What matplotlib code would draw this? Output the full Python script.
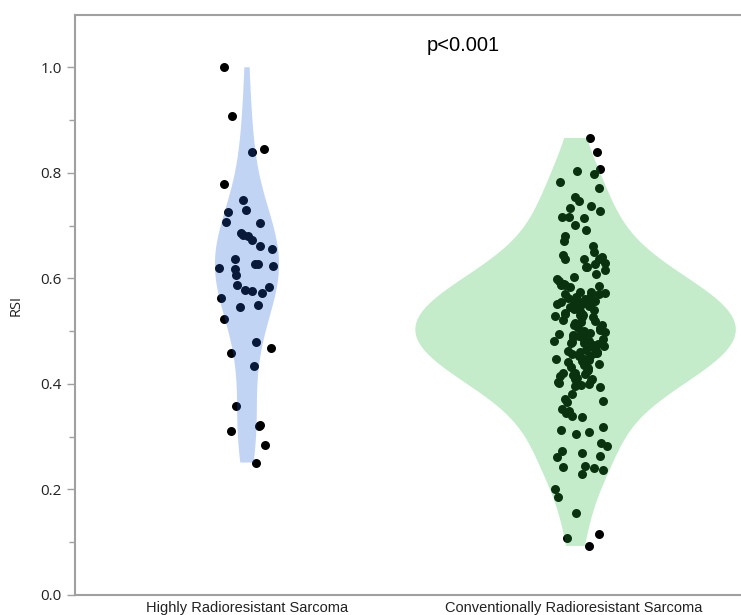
import numpy as np
import matplotlib
matplotlib.use('Agg')
import matplotlib.pyplot as plt
from matplotlib.ticker import MultipleLocator

### data
groups = ['Highly Radioresistant Sarcoma', 'Conventionally Radioresistant Sarcoma']

rsi_high = [1.000, 0.908, 0.846, 0.840, 0.778, 0.748, 0.729, 0.725, 0.704, 0.707,
            0.686, 0.680, 0.682, 0.672, 0.661, 0.655, 0.636, 0.627, 0.628, 0.617,
            0.619, 0.623, 0.606, 0.588, 0.583, 0.576, 0.578, 0.573, 0.563, 0.549,
            0.545, 0.523, 0.479, 0.468, 0.458, 0.434, 0.358, 0.322, 0.320, 0.311,
            0.285, 0.251]

rsi_conv = [0.866, 0.840, 0.803, 0.797, 0.807, 0.782, 0.772, 0.754, 0.746, 0.716,
            0.737, 0.734, 0.728, 0.716, 0.714, 0.701, 0.691, 0.680, 0.671, 0.661,
            0.650, 0.637, 0.640, 0.637, 0.636, 0.644, 0.616, 0.622, 0.622, 0.629,
            0.628, 0.609, 0.598, 0.602, 0.595, 0.590, 0.587, 0.585, 0.588, 0.584,
            0.574, 0.570, 0.572, 0.575, 0.571, 0.554, 0.556, 0.552, 0.553, 0.558,
            0.560, 0.551, 0.548, 0.533, 0.531, 0.534, 0.530, 0.555, 0.556, 0.552,
            0.557, 0.550, 0.529, 0.527, 0.532, 0.526, 0.513, 0.511, 0.512, 0.515,
            0.492, 0.488, 0.490, 0.494, 0.487, 0.485, 0.478, 0.474, 0.472, 0.476,
            0.470, 0.461, 0.458, 0.462, 0.460, 0.457, 0.442, 0.436, 0.432, 0.425,
            0.418, 0.415, 0.412, 0.410, 0.408, 0.402, 0.420, 0.398, 0.396, 0.399,
            0.381, 0.372, 0.368, 0.365, 0.352, 0.348, 0.340, 0.344, 0.338, 0.318,
            0.312, 0.305, 0.308, 0.288, 0.282, 0.272, 0.270, 0.263, 0.262, 0.245,
            0.242, 0.240, 0.236, 0.230, 0.201, 0.186, 0.155, 0.115, 0.108, 0.093,
            0.565, 0.562, 0.568, 0.545, 0.542, 0.540, 0.538, 0.520, 0.518, 0.522,
            0.505, 0.502, 0.500, 0.498, 0.482, 0.480, 0.466, 0.452, 0.448, 0.445,
            0.505, 0.497, 0.493, 0.486, 0.481, 0.477, 0.471, 0.465, 0.459, 0.452,
            0.447, 0.443, 0.437, 0.431, 0.426, 0.421, 0.416, 0.409, 0.404, 0.395]

p_text = 'p<0.001'

violin_colors = ['#1e60d7', '#25b93b']
violin_widths = [0.196, 0.98]
jitter = [0.085, 0.08]
centers = [0.0, 1.02]

fig = plt.figure(figsize=(7.41, 6.15), dpi=100)
ax = fig.add_axes([75/741, 20/615, 666/741, 580/615])

rng = np.random.default_rng(3)
data = [np.array(rsi_high), np.array(rsi_conv)]
for i, d in enumerate(data):
    xj = centers[i] + rng.uniform(-jitter[i], jitter[i], size=len(d))
    ax.scatter(xj, d, s=42, color='black', linewidths=0, zorder=2)

parts = ax.violinplot(data, positions=[0, 1.005], widths=violin_widths,
                      showextrema=False, bw_method=0.45)
for body, c in zip(parts['bodies'], violin_colors):
    body.set_facecolor(c)
    body.set_edgecolor('none')
    body.set_alpha(0.27)
    body.set_zorder(3)

ax.set_xlim(-0.526, 1.511)
ax.set_ylim(0, 1.099)
ax.set_xticks([0, 1])
ax.set_xticklabels(groups, fontsize=10.5, family='Liberation Sans')
ax.tick_params(axis='x', length=0, pad=4, colors='#222222')
ax.yaxis.set_major_locator(MultipleLocator(0.2))
ax.yaxis.set_minor_locator(MultipleLocator(0.1))
ax.tick_params(axis='y', which='major', length=6, width=1, color='#a0a0a0',
               labelsize=11, labelcolor='#222222')
ax.tick_params(axis='y', which='minor', length=4, width=1, color='#a0a0a0')
for lab in ax.get_yticklabels():
    lab.set_family('Open Sans')
ax.set_ylabel('RSI', fontsize=10.5, family='Open Sans', color='#222222', labelpad=12)

for side in ['left', 'bottom', 'top']:
    ax.spines[side].set_color('#a0a0a0')
    ax.spines[side].set_linewidth(1.5)
ax.spines['right'].set_visible(False)

ax.text(0.66, 1.042, p_text, fontsize=14.5, family='Liberation Sans',
        ha='center', va='center', color='black')

fig.savefig('out.png', dpi=100)
